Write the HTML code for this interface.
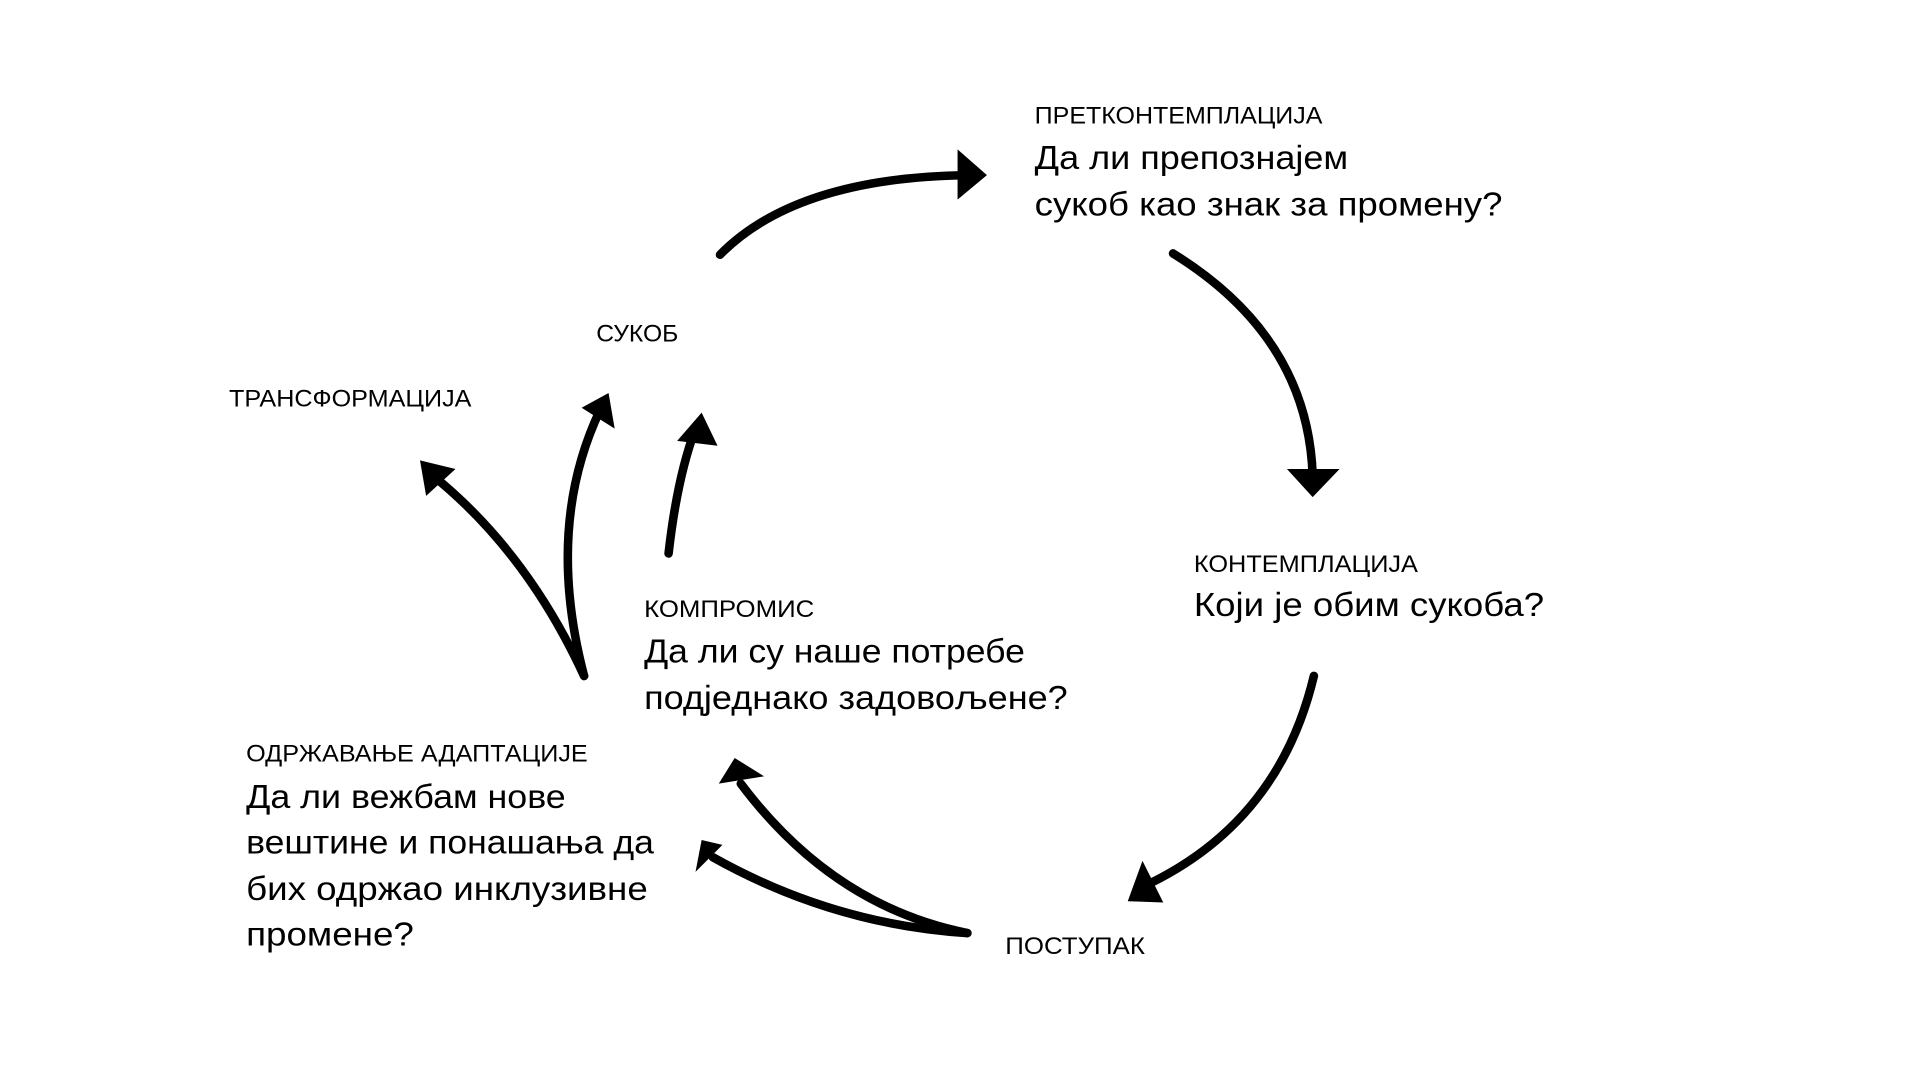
<!DOCTYPE html>
<html><head><meta charset="utf-8"><style>
html,body{margin:0;padding:0;background:#fff;width:1920px;height:1080px;overflow:hidden}
svg{display:block}
text{font-family:"Liberation Sans","DejaVu Sans",sans-serif;fill:#000}
.s{font-size:20px}
.q{font-size:27.5px}
</style></head><body>
<svg width="1920" height="1080" viewBox="0 0 1568 882" preserveAspectRatio="none" xmlns="http://www.w3.org/2000/svg">
<g fill="none" stroke="#000" stroke-width="7" stroke-linecap="round">
<path d="M588,208 Q650,145 790,143"/>
<path d="M958,207 Q1068,275 1072,388"/>
<path d="M1073,552 Q1045,670 938,722"/>
<path d="M790,762 Q680,755 582,700"/>
<path d="M790,762 Q680,740 605,640"/>
<path d="M477,552 Q445,430 490,335"/>
<path d="M477,552 Q430,450 353,388"/>
<path d="M546,452 Q553,390 568,350"/>
</g>
<g fill="#000">
<polygon points="782,122 806,143 782,163"/>
<polygon points="1051,383 1072,406 1094,383"/>
<polygon points="933,703 921,736 950,737"/>
<polygon points="573,686 568,712 590,690"/>
<polygon points="587,640 600,619 624,634"/>
<polygon points="475,333 497,321 502,350"/>
<polygon points="343,376 372,383 348,405"/>
<polygon points="553,360 573,337 586,364"/>
</g>
<g lengthAdjust="spacingAndGlyphs">
<text class="s" x="845" y="101" textLength="235" lengthAdjust="spacingAndGlyphs">ПРЕТКОНТЕМПЛАЦИЈА</text>
<text class="q" x="845" y="138" textLength="256" lengthAdjust="spacingAndGlyphs">Да ли препознајем</text>
<text class="q" x="845" y="176" textLength="382" lengthAdjust="spacingAndGlyphs">сукоб као знак за промену?</text>
<text class="s" x="487" y="279" textLength="67" lengthAdjust="spacingAndGlyphs">СУКОБ</text>
<text class="s" x="187" y="332" textLength="198" lengthAdjust="spacingAndGlyphs">ТРАНСФОРМАЦИЈА</text>
<text class="s" x="975" y="467" textLength="183" lengthAdjust="spacingAndGlyphs">КОНТЕМПЛАЦИЈА</text>
<text class="q" x="975" y="503" textLength="286" lengthAdjust="spacingAndGlyphs">Који је обим сукоба?</text>
<text class="s" x="526" y="504" textLength="139" lengthAdjust="spacingAndGlyphs">КОМПРОМИС</text>
<text class="q" x="526" y="541" textLength="311" lengthAdjust="spacingAndGlyphs">Да ли су наше потребе</text>
<text class="q" x="526" y="579" textLength="346" lengthAdjust="spacingAndGlyphs">подједнако задовољене?</text>
<text class="s" x="201" y="622" textLength="279" lengthAdjust="spacingAndGlyphs">ОДРЖАВАЊЕ АДАПТАЦИЈЕ</text>
<text class="q" x="201" y="660" textLength="261" lengthAdjust="spacingAndGlyphs">Да ли вежбам нове</text>
<text class="q" x="201" y="697" textLength="333" lengthAdjust="spacingAndGlyphs">вештине и понашања да</text>
<text class="q" x="201" y="735" textLength="328" lengthAdjust="spacingAndGlyphs">бих одржао инклузивне</text>
<text class="q" x="201" y="772" textLength="137" lengthAdjust="spacingAndGlyphs">промене?</text>
<text class="s" x="821" y="779" textLength="114" lengthAdjust="spacingAndGlyphs">ПОСТУПАК</text>
</g>
</svg>
</body></html>
